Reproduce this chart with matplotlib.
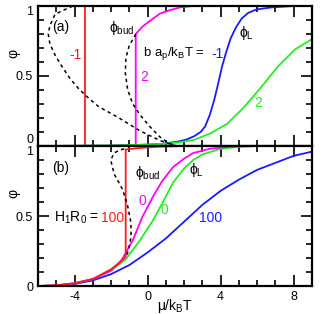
import matplotlib
matplotlib.use("Agg")
import matplotlib.pyplot as plt
from matplotlib.ticker import MultipleLocator

plt.rcParams['font.family'] = ['Liberation Sans', 'DejaVu Sans']
plt.rcParams['mathtext.fontset'] = 'custom'
plt.rcParams['mathtext.rm'] = 'Liberation Sans'
plt.rcParams['mathtext.it'] = 'Liberation Sans'
plt.rcParams['axes.unicode_minus'] = False

# ---- panel (a): b a_p/k_BT = -1 and 2 ----
mu_red_a = [-6, -3.44, -3.44, 9]
phi_red_a = [0, 0, 1.0, 1.0]

mu_mag_a = [-6, -0.65, -0.65, -0.26, 0.3, 0.67, 1.22, 1.78, 2.5, 9]
phi_mag_a = [0, 0, 0.80, 0.855, 0.91, 0.945, 0.97, 0.99, 1.0, 1.0]

mu_blue_a = [-6, -2, 0, 0.67, 1.59, 2.1, 2.55, 2.9, 3.15, 3.4, 3.65, 3.87, 4.08, 4.3,
             4.55, 4.85, 5.15, 5.5, 5.95, 6.8, 8, 9]
phi_blue_a = [0, 0.003, 0.01, 0.014, 0.03, 0.045, 0.07, 0.1, 0.14, 0.22, 0.33, 0.45, 0.57, 0.67,
              0.77, 0.85, 0.91, 0.95, 0.975, 0.99, 1.0, 1.0]

mu_green_a = [-6, -2, 0, 0.67, 1.59, 2.52, 3.44, 4.37, 5.30, 6.22, 7.15, 8.07, 9.09]
phi_green_a = [0, 0.003, 0.01, 0.014, 0.024, 0.043, 0.09, 0.16, 0.28, 0.42, 0.57, 0.69, 0.77]

mu_bud1_a = [-4.1, -4.24, -4.61, -5.07, -5.35, -5.44, -5.35, -5.07, -4.70, -4.24, -3.78, -3.22,
             -2.67, -2.11, -1.56, -1.0, -0.44, 0.11, 0.67, 1.2, 1.6]
phi_bud1_a = [1.0, 0.99, 0.97, 0.94, 0.86, 0.80, 0.73, 0.65, 0.57, 0.48, 0.41, 0.34,
              0.28, 0.24, 0.20, 0.155, 0.11, 0.075, 0.04, 0.015, 0.0]

mu_bud2_a = [-0.65, -0.72, -1.0, -1.19, -1.22, -1.09, -0.81, -0.4, 0.11, 0.67, 1.04, 1.5]
phi_bud2_a = [0.80, 0.78, 0.72, 0.63, 0.52, 0.40, 0.30, 0.22, 0.14, 0.065, 0.03, 0.0]

# ---- panel (b): H1 R0 = 0 and 100 ----
mu_red_b = [-6, -5, -4, -3, -2, -1.5, -1.2, -1.2, -0.5, 0.5, 2, 9]
phi_red_b = [0, 0.005, 0.02, 0.05, 0.12, 0.17, 0.21, 0.975, 0.985, 0.995, 1.0, 1.0]

mu_mag_b = [-6, -5, -4, -3, -2, -1.4, -0.8, -0.3, 0.3, 0.8, 1.4, 2.0, 2.5, 3.4, 4.5, 6, 9]
phi_mag_b = [0, 0.005, 0.02, 0.05, 0.11, 0.19, 0.33, 0.49, 0.64, 0.75, 0.85, 0.91, 0.95, 0.98, 0.995, 1.0, 1.0]

mu_green_b = [-6, -5, -4, -3, -2, -1.2, -0.4, 0.3, 0.8, 1.4, 2.0, 2.5, 3.0, 4.0, 5.0, 6, 9]
phi_green_b = [0, 0.005, 0.02, 0.05, 0.11, 0.19, 0.33, 0.47, 0.59, 0.74, 0.84, 0.90, 0.94, 0.98, 0.995, 1.0, 1.0]

mu_blue_b = [-6, -5, -4, -3, -2, -1, 0, 1, 2, 3, 4, 5, 6, 7, 8, 9]
phi_blue_b = [0, 0.005, 0.015, 0.04, 0.085, 0.15, 0.24, 0.34, 0.46, 0.58, 0.68, 0.76, 0.83, 0.88, 0.93, 0.96]

mu_bud_b = [-1.28, -1.55, -1.83, -2.02, -1.83, -1.37, -1.09, -0.91, -0.91, -1.04, -1.19]
phi_bud_b = [0.98, 0.97, 0.95, 0.90, 0.80, 0.69, 0.57, 0.45, 0.35, 0.26, 0.20]

RED = '#ff1a1a'
MAG = '#ff00ff'
BLUE = '#1a1aff'
GREEN = '#22ee22'
DASH = (0, (2.2, 2.2))


def style_axes(ax):
    ax.set_xlim(-6, 9)
    ax.set_ylim(0, 1.0)
    ax.xaxis.set_major_locator(MultipleLocator(4))
    ax.xaxis.set_minor_locator(MultipleLocator(1))
    ax.yaxis.set_major_locator(MultipleLocator(0.5))
    ax.yaxis.set_minor_locator(MultipleLocator(0.1))
    ax.tick_params(which='both', direction='in', top=True, right=True, width=1.2, labelsize=9)
    ax.tick_params(which='major', length=8)
    ax.tick_params(which='minor', length=4.5)
    for s in ax.spines.values():
        s.set_linewidth(1.6)
    ax.set_ylabel(u'\u03c6', fontsize=10)
    ax.yaxis.set_label_coords(-0.066, 0.66)


fig = plt.figure(figsize=(3.25, 3.14), dpi=100)
ax1 = fig.add_axes([0.117, 0.535, 0.843, 0.446])
ax2 = fig.add_axes([0.117, 0.089, 0.843, 0.446])

lw = 1.3
ax1.plot(mu_red_a, phi_red_a, color=RED, lw=lw)
ax1.plot(mu_mag_a, phi_mag_a, color=MAG, lw=lw)
ax1.plot(mu_blue_a, phi_blue_a, color=BLUE, lw=lw)
ax1.plot(mu_green_a, phi_green_a, color=GREEN, lw=lw)
ax1.plot(mu_bud1_a, phi_bud1_a, color='black', lw=1.1, ls=DASH)
ax1.plot(mu_bud2_a, phi_bud2_a, color='black', lw=1.1, ls=DASH)
style_axes(ax1)
ax1.set_yticks([0, 0.5, 1])
ax1.set_yticklabels(['0', '0.5', '1'])
ax1.tick_params(axis='x', labelbottom=False)
ax1.get_yticklabels()[0].set_va('bottom')
ax1.get_yticklabels()[2].set_va('top')

ax1.text(-4.78, 0.85, '(a)', fontsize=10, ha='center', va='center')
ax1.text(-3.94, 0.65, '-1', color=RED, fontsize=10, ha='center', va='center')
ax1.text(-1.44, 0.84, r'$\mathrm{\phi_{bud}}$', fontsize=10, ha='center', va='center')
ax1.text(-0.17, 0.49, '2', color=MAG, fontsize=10, ha='center', va='center')
ax1.text(-0.25, 0.66, r'b a$_\mathrm{p}$/k$_\mathrm{B}$T =', fontsize=9.5, ha='left', va='center')
ax1.text(3.5, 0.66, '-1', color=BLUE, fontsize=10, ha='left', va='center')
ax1.text(5.44, 0.81, r'$\mathrm{\phi_L}$', fontsize=10, ha='center', va='center')
ax1.text(6.06, 0.31, '2', color=GREEN, fontsize=10, ha='center', va='center')

ax2.plot(mu_blue_b, phi_blue_b, color=BLUE, lw=lw)
ax2.plot(mu_green_b, phi_green_b, color=GREEN, lw=lw)
ax2.plot(mu_mag_b, phi_mag_b, color=MAG, lw=lw)
ax2.plot(mu_red_b, phi_red_b, color=RED, lw=lw)
ax2.plot(mu_bud_b, phi_bud_b, color='black', lw=1.1, ls=DASH)
style_axes(ax2)
ax2.set_yticks([0, 0.5, 1])
ax2.set_yticklabels(['0', '0.5', '1'])
ax2.get_yticklabels()[2].set_va('top')
ax2.set_xlabel(r'$\mathrm{\mu}$/k$_\mathrm{B}$T', fontsize=10)
ax2.xaxis.set_label_coords(0.5, -0.08)
ax2.xaxis.label.set_va('top')

ax2.text(-4.78, 0.84, '(b)', fontsize=10, ha='center', va='center')
ax2.text(0.0, 0.81, r'$\mathrm{\phi_{bud}}$', fontsize=10, ha='center', va='center')
ax2.text(-0.28, 0.61, '0', color=MAG, fontsize=10, ha='center', va='center')
ax2.text(0.94, 0.54, '0', color=GREEN, fontsize=10, ha='center', va='center')
ax2.text(-2.67, 0.485, r'H$_1$R$_0$ =', fontsize=10, ha='right', va='center')
ax2.text(-2.57, 0.485, '100', color=RED, fontsize=10, ha='left', va='center')
ax2.text(2.7, 0.83, r'$\mathrm{\phi_L}$', fontsize=10, ha='center', va='center')
ax2.text(3.44, 0.485, '100', color=BLUE, fontsize=10, ha='center', va='center')

fig.savefig('out.png', dpi=100)
